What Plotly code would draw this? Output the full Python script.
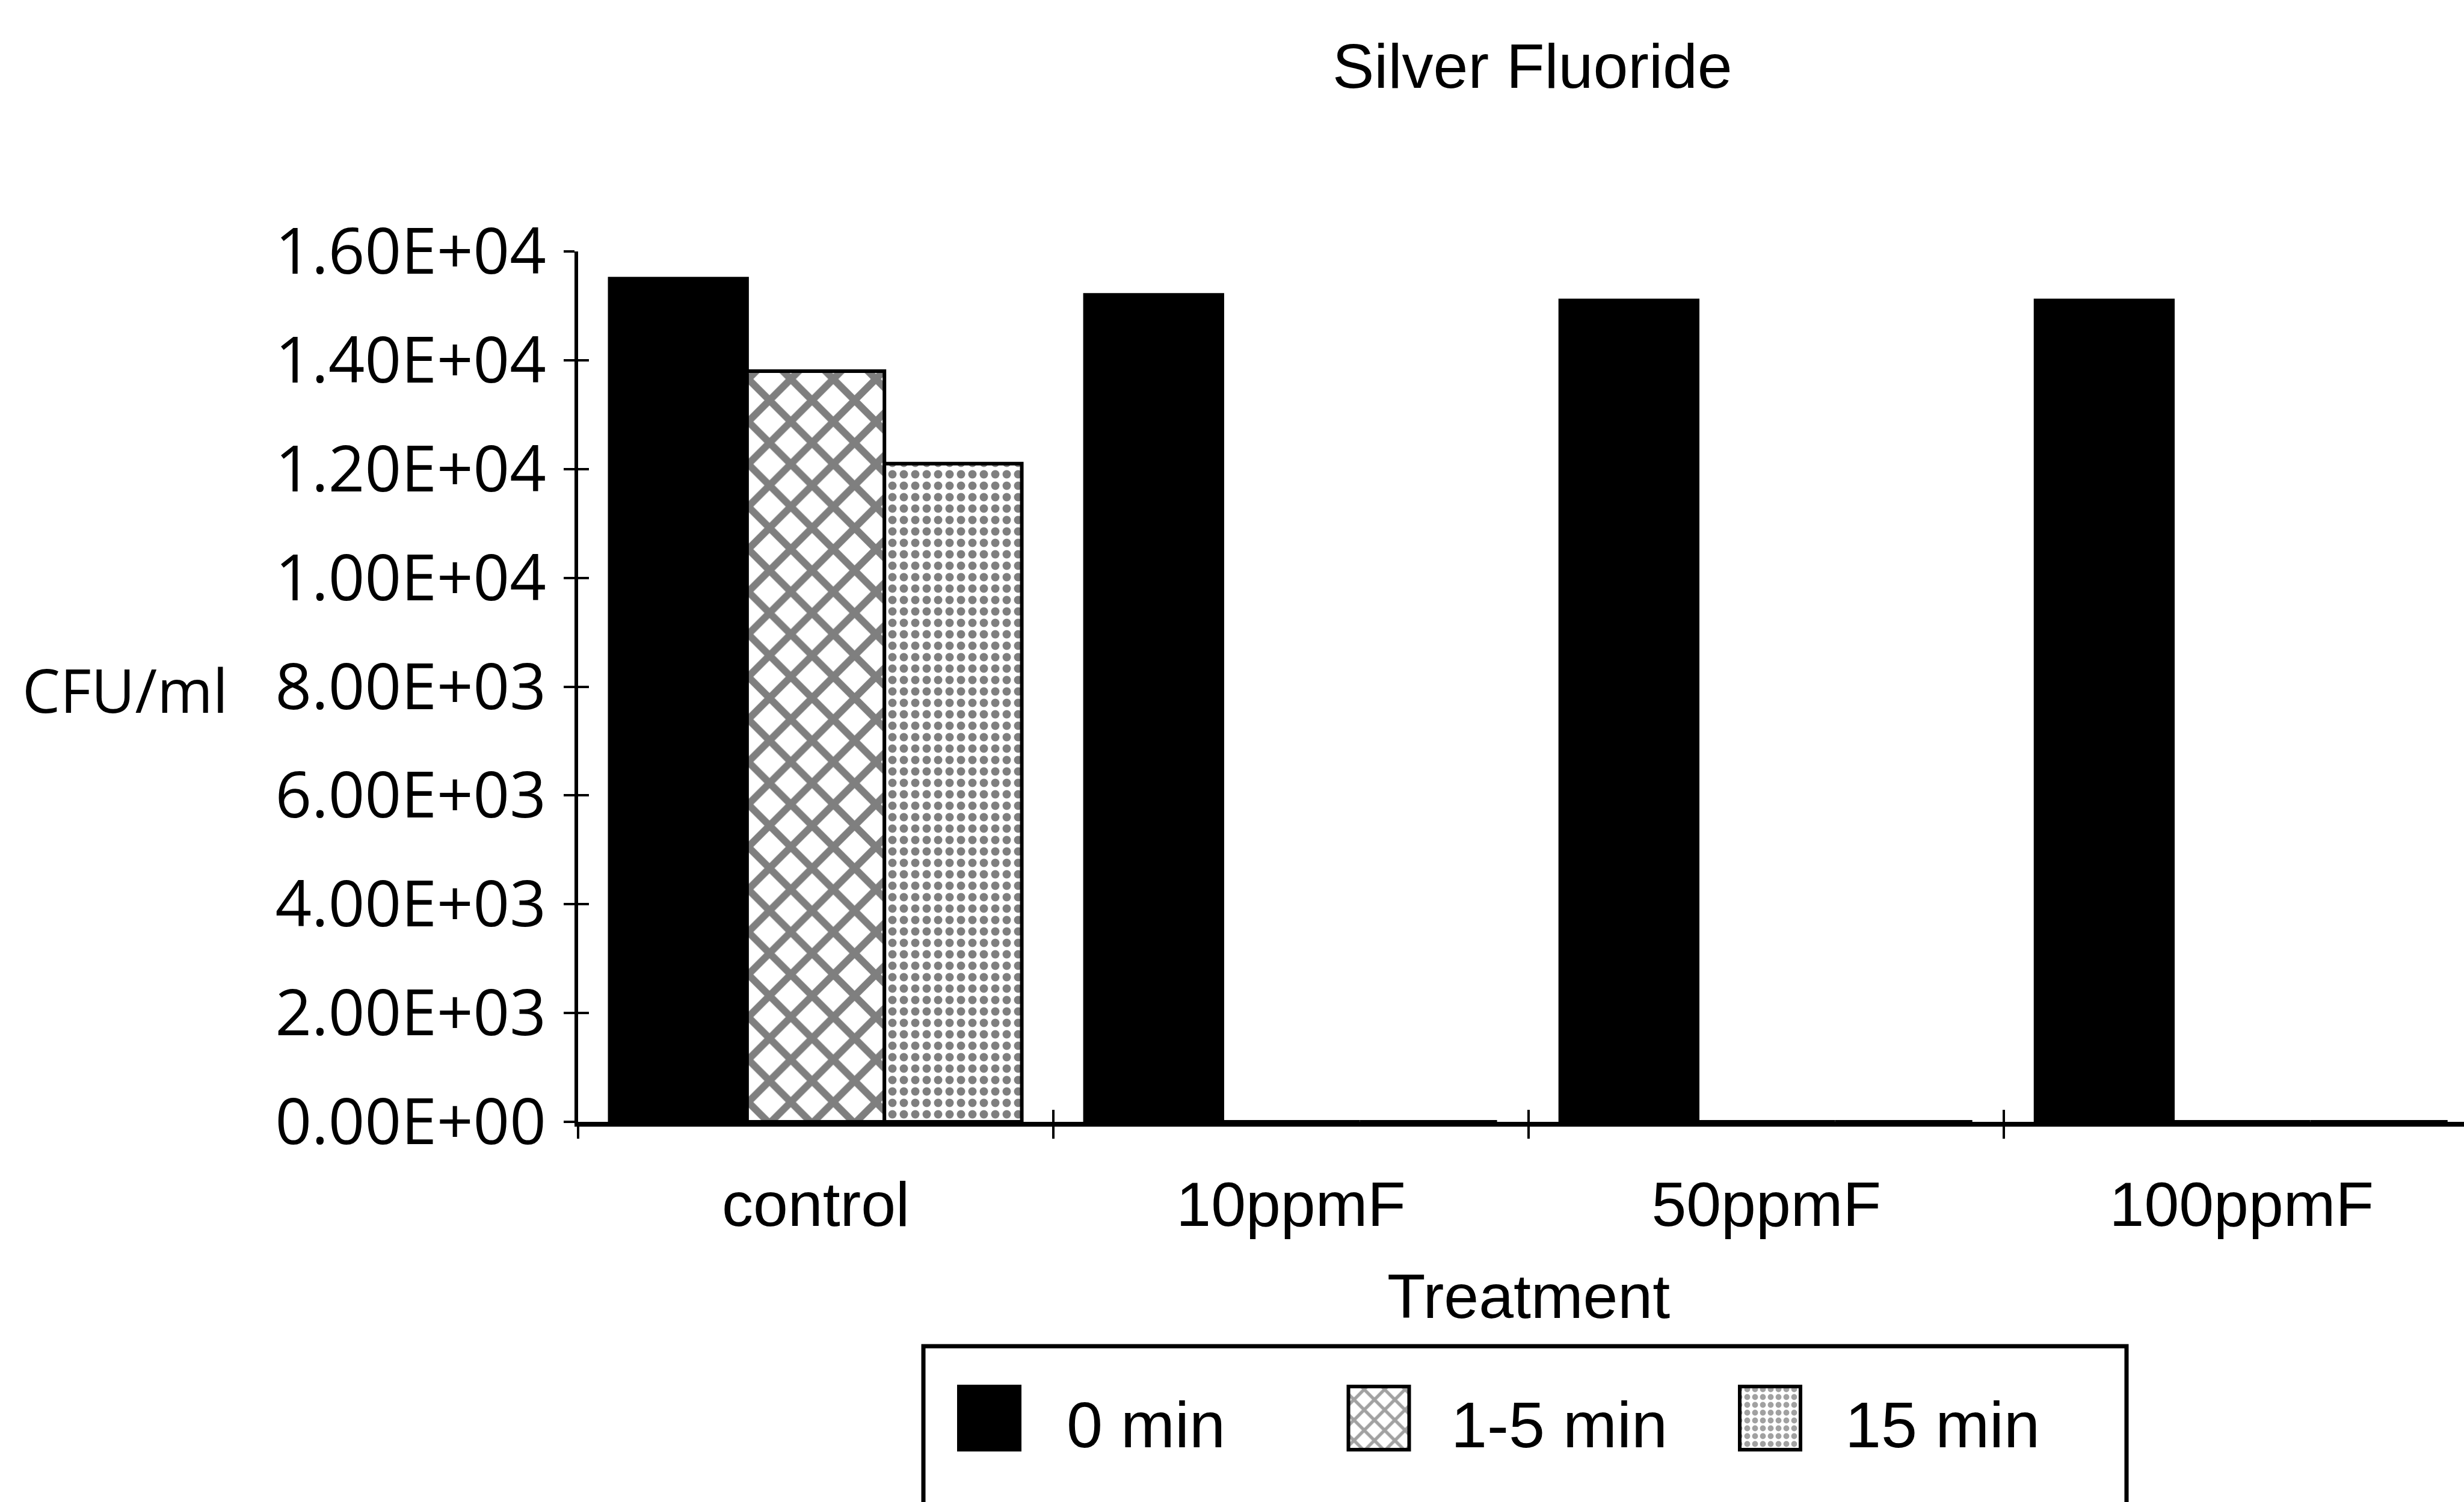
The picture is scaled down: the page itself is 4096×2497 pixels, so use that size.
import plotly.graph_objects as go

# ---- data -------------------------------------------------------------
treatments = ["control", "10ppmF", "50ppmF", "100ppmF"]
series_names = ["0 min", "1-5 min", "15 min"]
cfu_0min = [15500, 15200, 15100, 15100]
cfu_1to5min = [13800, 0, 0, 0]
cfu_15min = [12100, 0, 0, 0]

y_tick_values = [0, 2000, 4000, 6000, 8000, 10000, 12000, 14000, 16000]
y_tick_labels = ["0.00E+00", "2.00E+03", "4.00E+03", "6.00E+03", "8.00E+03",
                 "1.00E+04", "1.20E+04", "1.40E+04", "1.60E+04"]
category_bounds = [-0.5, 0.5, 1.5, 2.5]

# ---- page geometry (pixels) ----------------------------------------------
W, H = 4096, 2497
PLOT_L, PLOT_R = 961, 4096
PLOT_T, PLOT_B = 418, 1865
PAPER_H = H - PLOT_T
X_RANGE = [-0.5, 3.468]


def px_x(px):
    return (px - PLOT_L) / (PLOT_R - PLOT_L)


def px_y(py):
    return (H - py) / PAPER_H


NARROW = "Liberation Sans, Arial, sans-serif"
WIDE = "Open Sans, DejaVu Sans, sans-serif"
INK = "black"

# bar fill styles: solid, diamond cross-hatch, dots
styles = [
    dict(color=INK, pattern=dict(shape="")),
    dict(color="white", pattern=dict(shape="x", size=50, solidity=0.42,
                                      fgcolor=INK, bgcolor="white")),
    dict(color="white", pattern=dict(shape=".", size=19, solidity=0.42,
                                      fgcolor=INK, bgcolor="white")),
]

fig = go.Figure()

for name, vals, st in zip(series_names, [cfu_0min, cfu_1to5min, cfu_15min], styles):
    fig.add_trace(go.Bar(
        x=treatments, y=vals, name=name,
        marker=dict(color=st["color"], pattern=st["pattern"],
                    line=dict(color=INK, width=6)),
        showlegend=False, hoverinfo="skip",
    ))

# empty traces so the tick-cross overlay axes get drawn
fig.add_trace(go.Scatter(x=[], y=[], xaxis="x3", yaxis="y", showlegend=False))
fig.add_trace(go.Scatter(x=[], y=[], xaxis="x", yaxis="y3", showlegend=False))

# ---- hand-built legend (large swatches) --------------------------------------
LEG_BOX = dict(x0=1535, x1=3535, y0=2238, y1=2505)
swatch_x = [1644.5, 2292.0, 2942.5]
swatch_w = 101
swatch_top, swatch_h = 2305, 105
label_x = [1771, 2410, 3065]
label_y = 2368

fig.add_trace(go.Bar(
    x=swatch_x, y=[swatch_h] * 3, base=[swatch_top] * 3, width=[swatch_w] * 3,
    xaxis="x2", yaxis="y2",
    marker=dict(
        color=[INK, "white", "white"],
        pattern=dict(shape=["", "x", "."], size=[10, 24, 13],
                     solidity=[0.3, 0.4, 0.45], fgcolor=INK, bgcolor="white"),
        line=dict(color=INK, width=6),
    ),
    showlegend=False, hoverinfo="skip",
))

fig.add_shape(type="rect", xref="x2", yref="y2", layer="below",
              line=dict(color=INK, width=7), fillcolor="rgba(0,0,0,0)", **LEG_BOX)

for lx, txt in zip(label_x, series_names):
    fig.add_annotation(x=lx, y=label_y, xref="x2", yref="y2", text=txt,
                       showarrow=False, xanchor="left", yanchor="middle",
                       font=dict(family=NARROW, size=108, color=INK))

# ---- titles -----------------------------------------------------------------
fig.add_annotation(x=px_x(2547), y=px_y(110), xref="paper", yref="paper",
                   text="Silver Fluoride", showarrow=False,
                   xanchor="center", yanchor="middle",
                   font=dict(family=NARROW, size=104, color=INK))
fig.add_annotation(x=px_x(2541), y=px_y(2155), xref="paper", yref="paper",
                   text="Treatment", showarrow=False,
                   xanchor="center", yanchor="middle",
                   font=dict(family=NARROW, size=104, color=INK))
fig.add_annotation(x=px_x(381), y=px_y(1146), xref="paper", yref="paper",
                   text="CFU/ml", showarrow=False,
                   xanchor="right", yanchor="middle",
                   font=dict(family=WIDE, size=100, color=INK))

y_domain = [px_y(PLOT_B), 1.0]

fig.update_layout(
    width=W, height=H,
    margin=dict(l=PLOT_L, r=W - PLOT_R, t=PLOT_T, b=0, pad=0, autoexpand=False),
    paper_bgcolor="white", plot_bgcolor="white",
    barmode="group", bargap=0.133, bargroupgap=0,
    showlegend=False,
    xaxis=dict(
        type="category", range=X_RANGE, domain=[0, 1], anchor="y",
        automargin=False,
        tickson="boundaries", ticks="outside", ticklen=20, tickwidth=4,
        tickcolor=INK, showline=True, linewidth=8, linecolor=INK,
        showgrid=False, zeroline=False, ticklabelstandoff=40,
        tickfont=dict(family=NARROW, size=104, color=INK), fixedrange=True,
    ),
    xaxis3=dict(
        overlaying="x", anchor="y", type="linear", range=X_RANGE,
        automargin=False,
        tickmode="array", tickvals=category_bounds, ticks="inside",
        ticklen=20, tickwidth=4, tickcolor=INK, showticklabels=False,
        showline=False, showgrid=False, zeroline=False, fixedrange=True,
    ),
    yaxis=dict(
        range=[0, 16000], domain=y_domain, anchor="x", automargin=False,
        tickmode="array", tickvals=y_tick_values, ticktext=y_tick_labels,
        ticks="outside", ticklen=18, tickwidth=4, tickcolor=INK,
        showline=True, linewidth=6, linecolor=INK, showgrid=False,
        zeroline=False, ticklabelstandoff=8,
        tickfont=dict(family=WIDE, size=106, color=INK), fixedrange=True,
    ),
    yaxis3=dict(
        overlaying="y", anchor="x", range=[0, 16000], automargin=False,
        tickmode="array", tickvals=y_tick_values, ticks="inside",
        ticklen=18, tickwidth=4, tickcolor=INK, showticklabels=False,
        showline=False, showgrid=False, zeroline=False, fixedrange=True,
    ),
    xaxis2=dict(domain=[0, 1], anchor="y2", range=[PLOT_L, PLOT_R],
                visible=False, fixedrange=True, automargin=False),
    yaxis2=dict(domain=[0, px_y(2225)], anchor="x2", range=[H, 2225],
                visible=False, fixedrange=True, automargin=False),
)

fig.write_html("out.html", config={"displayModeBar": False})
